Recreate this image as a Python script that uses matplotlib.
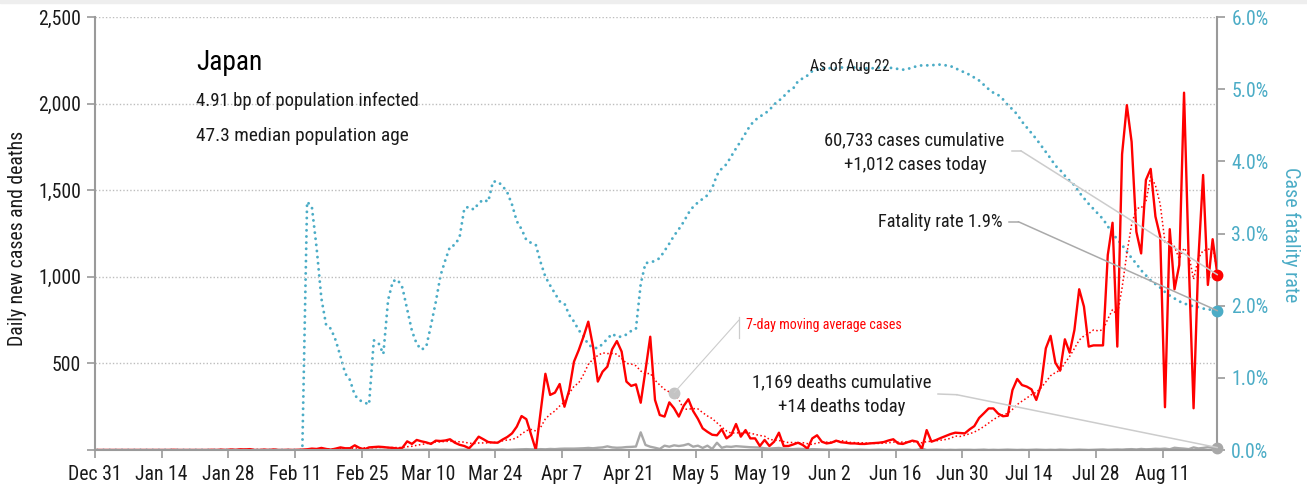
import numpy as np
import pandas as pd
import matplotlib
matplotlib.use("Agg")
import matplotlib.pyplot as plt
from matplotlib.lines import Line2D
from matplotlib.patches import Rectangle, ConnectionPatch
from matplotlib import font_manager as fm

# ---------------- data (daily, Dec 31 2019 .. Aug 22 2020) ----------------
start_date = "2019-12-31"

cases_dec = [0]
cases_jan = [0, 0, 0, 0, 0, 0, 0, 0, 0, 0, 0, 0, 0, 0, 0, 1, 0, 0, 0, 0, 0, 0, 0, 1, 0, 2, 0, 3, 1, 4, 3]
cases_feb = [5, 0, 0, 2, 0, 3, 0, 0, 1, 0, 1, 2, 4, 8, 6, 12, 6, 2, 8, 15, 10, 10, 27, 12, 4, 15, 17, 19, 17]
cases_mar = [14, 12, 8, 13, 50, 35, 58, 50, 44, 35, 54, 52, 55, 62, 42, 30, 23, 10, 40, 77, 62, 46, 43, 42,
             60, 75, 96, 135, 196, 178, 90]
cases_apr = [0, 220, 440, 318, 331, 381, 250, 346, 510, 577, 655, 741, 597, 395, 452, 481, 581, 629, 568, 395,
             370, 379, 273, 460, 654, 289, 202, 193, 275, 241]
cases_may = [193, 254, 293, 225, 180, 125, 105, 88, 85, 120, 67, 87, 150, 77, 115, 67, 67, 23, 58, 23, 48, 100,
             23, 23, 32, 42, 29, 8, 67, 85, 48]
cases_jun = [38, 42, 54, 45, 42, 38, 38, 35, 35, 38, 40, 42, 46, 55, 62, 38, 35, 45, 54, 48, 6, 115, 48, 58,
             70, 81, 92, 100, 98, 96]
cases_jul = [119, 138, 185, 212, 240, 240, 210, 195, 198, 346, 410, 375, 366, 350, 289, 375, 587, 659, 504,
             458, 639, 562, 693, 928, 828, 597, 604, 604, 604, 1126, 1312]
cases_aug = [597, 1708, 1991, 1779, 1260, 1135, 1559, 1623, 1348, 1232, 247, 1275, 928, 1068, 2063, 1078, 241,
             1097, 1588, 953, 1217, 1012]

deaths_dec = [0]
deaths_jan = [0] * 31
deaths_feb = [0, 0, 0, 0, 0, 0, 0, 0, 0, 0, 0, 0, 1, 0, 0, 0, 0, 0, 0, 0, 0, 0, 0, 0, 0, 1, 0, 1, 1]
deaths_mar = [1, 0, 2, 1, 1, 0, 1, 1, 2, 1, 3, 1, 2, 1, 0, 2, 2, 1, 1, 1, 2, 3, 1, 2, 3, 1, 2, 3, 4, 5, 4]
deaths_apr = [3, 5, 4, 6, 5, 7, 8, 8, 8, 9, 10, 12, 10, 13, 15, 21, 15, 13, 14, 17, 18, 20, 102, 29, 19, 13,
              6, 25, 19, 27]
deaths_may = [23, 27, 35, 19, 25, 12, 25, 6, 42, 13, 20, 18, 22, 20, 18, 16, 15, 14, 10, 8, 10, 12, 8, 6, 5,
              7, 6, 3, 5, 4, 3]
deaths_jun = [2, 1, 3, 1, 2, 0, 1, 2, 1, 0, 1, 2, 1, 1, 0, 1, 1, 2, 0, 1, 8, 0, 1, 2, 1, 0, 1, 0, 1, 1]
deaths_jul = [1, 0, 1, 2, 0, 1, 0, 1, 2, 1, 0, 1, 0, 1, 2, 1, 0, 1, 0, 2, 1, 0, 1, 2, 1, 0, 1, 2, 3, 1, 2]
deaths_aug = [3, 2, 4, 5, 3, 6, 4, 5, 7, 6, 8, 4, 13, 10, 8, 5, 15, 9, 12, 16, 13, 14]

rate_dec = [0.0]
rate_jan = [0.0] * 31
rate_feb = [0, 0, 0, 0, 0, 0, 0, 0, 0, 0, 0, 0, 3.44, 3.37, 2.80, 2.10, 1.73, 1.68, 1.52, 1.30, 1.06, 0.97,
            0.76, 0.69, 0.66, 0.63, 1.52, 1.48, 1.33]
rate_mar = [2.08, 2.34, 2.36, 2.25, 1.95, 1.65, 1.47, 1.39, 1.43, 1.73, 2.05, 2.42, 2.63, 2.82, 2.84, 2.95,
            3.35, 3.37, 3.33, 3.42, 3.47, 3.44, 3.72, 3.72, 3.66, 3.57, 3.40, 3.17, 3.06, 2.91, 2.87]
rate_apr = [2.84, 2.60, 2.40, 2.28, 2.17, 2.06, 2.03, 1.87, 1.78, 1.66, 1.58, 1.46, 1.42, 1.41, 1.47, 1.54,
            1.61, 1.57, 1.57, 1.60, 1.65, 1.68, 2.30, 2.59, 2.60, 2.62, 2.66, 2.76, 2.86, 2.97]
rate_may = [3.06, 3.16, 3.28, 3.37, 3.43, 3.48, 3.53, 3.63, 3.81, 3.90, 3.96, 4.07, 4.18, 4.28, 4.39, 4.50,
            4.57, 4.62, 4.66, 4.71, 4.79, 4.84, 4.90, 4.97, 5.01, 5.11, 5.15, 5.19, 5.25, 5.27, 5.29]
rate_jun = [5.29, 5.29, 5.29, 5.30, 5.30, 5.30, 5.30, 5.29, 5.29, 5.29, 5.29, 5.30, 5.30, 5.30, 5.29, 5.28,
            5.27, 5.28, 5.30, 5.32, 5.33, 5.33, 5.33, 5.34, 5.34, 5.33, 5.32, 5.29, 5.26, 5.23]
rate_jul = [5.20, 5.16, 5.12, 5.06, 5.00, 4.95, 4.92, 4.86, 4.78, 4.72, 4.65, 4.55, 4.47, 4.39, 4.31, 4.22,
            4.13, 4.04, 3.94, 3.88, 3.80, 3.73, 3.67, 3.57, 3.49, 3.41, 3.34, 3.27, 3.20, 3.10, 3.00]
rate_aug = [2.92, 2.84, 2.75, 2.66, 2.58, 2.49, 2.42, 2.35, 2.30, 2.25, 2.19, 2.14, 2.10, 2.06, 2.03, 2.01,
            1.99, 1.98, 1.96, 1.95, 1.94, 1.93]

y_ticks_left = [0, 500, 1000, 1500, 2000, 2500]
y_ticks_right = [0, 1, 2, 3, 4, 5, 6]

country = "Japan"
sub1 = "4.91 bp of population infected"
sub2 = "47.3 median population age"
asof = "As of Aug 22"
cases_note = ["60,733 cases cumulative", "+1,012 cases today"]
fatal_note = "Fatality rate 1.9%"
deaths_note = ["1,169 deaths cumulative", "+14 deaths today"]
ma_note = "7-day moving average cases"

# ---------------- font: prefer a condensed sans if one is installed ----------------
def pick_font():
    prefs = ["Roboto Condensed", "Liberation Sans Narrow", "Open Sans Condensed", "Noto Sans",
             "DejaVu Sans", "Open Sans", "Lato", "Inter", "Roboto"]
    cands = []
    for f in fm.fontManager.ttflist:
        nm = f.name
        fname = f.fname.lower()
        is_cond = ("condensed" in nm.lower() or "narrow" in nm.lower() or "condensed" in fname
                   or "narrow" in fname or str(f.stretch) in ("condensed", "semi-condensed"))
        if not is_cond:
            continue
        if f.style != "normal":
            continue
        w = f.weight
        if isinstance(w, str):
            w = {"normal": 400, "regular": 400, "book": 400}.get(w.lower(), 700)
        if w != 400:
            continue
        if "semi" in fname or "extra" in fname or "ultra" in fname:
            rank_extra = 1
        else:
            rank_extra = 0
        base = next((i for i, p in enumerate(prefs) if nm.startswith(p)), len(prefs))
        cands.append((base, rank_extra, f.fname))
    if cands:
        cands.sort()
        return fm.FontProperties(fname=cands[0][2])
    return fm.FontProperties(family="Liberation Sans")


FP = pick_font()

# ---------------- assemble ----------------
cases = np.array(cases_dec + cases_jan + cases_feb + cases_mar + cases_apr + cases_may + cases_jun
                 + cases_jul + cases_aug, dtype=float)
deaths = np.array(deaths_dec + deaths_jan + deaths_feb + deaths_mar + deaths_apr + deaths_may + deaths_jun
                  + deaths_jul + deaths_aug, dtype=float)
rate = np.array(rate_dec + rate_jan + rate_feb + rate_mar + rate_apr + rate_may + rate_jun + rate_jul
                + rate_aug, dtype=float)
n = len(cases)
dates = pd.date_range(start_date, periods=n, freq="D")
ma = pd.Series(cases).rolling(7, min_periods=1).mean().to_numpy()
x = np.arange(n) + 0.5

RED = "#ff0000"
BLUE = "#4bacc6"
DGRAY = "#a8a8a8"
SPINE = "#9a9a9a"
TXT = "#1a1a1a"

W, H = 1307, 491
fig = plt.figure(figsize=(W / 100, H / 100), dpi=100)
fig.patches.append(Rectangle((0, 1 - 3 / H), 1, 3 / H, transform=fig.transFigure,
                             color="#eeeeee", zorder=0))
L, R, T, B = 95, 1217.4, 17, 450
ax = fig.add_axes([L / W, 1 - B / H, (R - L) / W, (B - T) / H])
ax2 = ax.twinx()
ax.set_zorder(ax2.get_zorder() + 1)
ax.patch.set_visible(False)

# fatality rate
ax2.plot(x, rate, color=BLUE, lw=2.1, linestyle=(0, (0.01, 2.1)), dash_capstyle="round")
ax2.plot([x[-1]], [rate[-1]], "o", color=BLUE, ms=7.5, clip_on=False, zorder=5)

# cases, MA, deaths
ax.plot(x, deaths, color=DGRAY, lw=1.7, solid_joinstyle="round")
ax.plot(x, ma, color=RED, lw=1.1, linestyle=(0, (1, 1.6)))
ax.plot(x, cases, color=RED, lw=1.7, solid_joinstyle="round")
ax.plot([x[-1]], [cases[-1]], "o", color=RED, ms=7.5, clip_on=False, zorder=6)
ax.plot([x[-1]], [deaths[-1]], "o", color=DGRAY, ms=7.5, clip_on=False, zorder=6)
ma_i = 121
ax.plot([x[ma_i]], [ma[ma_i]], "o", color="#c4c4c4", ms=7.5, zorder=6)

ax.set_xlim(0, x[-1])
ax.set_ylim(0, 2500)
ax2.set_ylim(0, 6)

tick_pos = list(range(0, n - 1, 14))
ax.set_xticks(tick_pos)
ax.set_xticklabels([f"{dates[p]:%b} {dates[p].day}" for p in tick_pos])
ax.set_yticks(y_ticks_left)
ax.set_yticklabels(["" if v == 0 else f"{v:,}" for v in y_ticks_left])
ax2.set_yticks(y_ticks_right)
ax2.set_yticklabels([f"{v:.1f}%" for v in y_ticks_right])

ax.yaxis.grid(True, linestyle=(0, (1, 1.5)), color="#bdbdbd", lw=1.0)
ax.set_axisbelow(True)

for a in (ax, ax2):
    a.spines["top"].set_visible(False)
ax.spines["right"].set_visible(False)
ax2.spines["left"].set_visible(False)
ax2.spines["bottom"].set_visible(False)
for s in ("left", "bottom"):
    ax.spines[s].set_color(SPINE)
    ax.spines[s].set_linewidth(1.5)
ax2.spines["right"].set_color(SPINE)
ax2.spines["right"].set_linewidth(1.5)

ax.tick_params(axis="y", length=6, width=1.2, color=SPINE, labelcolor=TXT, pad=4)
ax.tick_params(axis="x", length=6, width=1.2, color=SPINE, labelcolor=TXT, pad=5)
ax2.tick_params(axis="y", length=6, width=1.2, color=SPINE, labelcolor=BLUE, pad=4)

renderer = fig.canvas.get_renderer()


def fit(t, target_w, base=14):
    t.set_fontproperties(FP)
    t.set_fontsize(base)
    w = t.get_window_extent(renderer).width
    t.set_fontsize(base * target_w / w)
    return t


# tick label size: compromise between reference widths of "Dec 31" (51 px),
# "2,500" (45 px) and "0.0%" (38 px)
sizes = []
for s, tw in (("Dec 31", 51), ("2,500", 45), ("0.0%", 38)):
    probe = fig.text(0, 0, s)
    fit(probe, tw)
    sizes.append(probe.get_fontsize())
    probe.remove()
tick_fs = float(np.mean(sizes))
for lab in ax.get_xticklabels() + ax.get_yticklabels() + ax2.get_yticklabels():
    lab.set_fontproperties(FP)
    lab.set_fontsize(tick_fs)

# axis titles
t = fig.text(18 / W, 1 - 238 / H, "Daily new cases and deaths", rotation=90, ha="center", va="center",
             color=TXT)
t.set_fontproperties(FP); t.set_fontsize(13)
h = t.get_window_extent(renderer).height
t.set_fontsize(13 * 215 / h)
t = fig.text(1291 / W, 1 - 234.5 / H, "Case fatality rate", rotation=270, ha="center", va="center",
             color=BLUE)
t.set_fontproperties(FP); t.set_fontsize(13)
h = t.get_window_extent(renderer).height
t.set_fontsize(13 * 135 / h)

# titles and notes (x, y, text, ha, target width px, colour)
notes = [
    (196, 62, country, "left", 67, "#000000"),
    (196, 101, sub1, "left", 224, TXT),
    (196, 136, sub2, "left", 214, TXT),
    (850, 66, asof, "center", 80, TXT),
    (914, 140, cases_note[0], "center", 182, TXT),
    (915, 165, cases_note[1], "center", 144, TXT),
    (1003, 222, fatal_note, "right", 126, TXT),
    (842, 382, deaths_note[0], "center", 180, TXT),
    (842, 407, deaths_note[1], "center", 128, TXT),
    (746, 325, ma_note, "left", 157, RED),
]
for px, py, s, ha, tw, col in notes:
    t = fig.text(px / W, 1 - py / H, s, ha=ha, va="center", color=col)
    fit(t, tw)


def fp(px, py):
    return (px / W, 1 - py / H)


def seg(p0, p1, color, lw):
    (x0, y0), (x1, y1) = fp(*p0), fp(*p1)
    fig.add_artist(Line2D([x0, x1], [y0, y1], transform=fig.transFigure, color=color, lw=lw))


def leader(p_fig, xy, axes, color, lw):
    cp = ConnectionPatch(xyA=fp(*p_fig), coordsA=fig.transFigure, xyB=xy, coordsB=axes.transData,
                         color=color, lw=lw, zorder=4)
    fig.add_artist(cp)


seg((1011.7, 150.7), (1020.7, 150.7), "#cccccc", 1.1)
leader((1020.7, 150.7), (x[-1], cases[-1]), ax, "#cccccc", 1.1)
seg((1009.3, 221.7), (1018.3, 221.7), "#aaaaaa", 1.1)
leader((1018.3, 221.7), (x[-1], rate[-1]), ax2, "#aaaaaa", 1.1)
seg((938, 394), (956.7, 394.7), "#cccccc", 1.1)
leader((956.7, 394.7), (x[-1], deaths[-1]), ax, "#cccccc", 1.1)
seg((739, 317), (739, 338), "#cccccc", 0.9)
leader((739, 320), (x[ma_i], ma[ma_i]), ax, "#cccccc", 0.8)

fig.savefig("out.png", dpi=100)
